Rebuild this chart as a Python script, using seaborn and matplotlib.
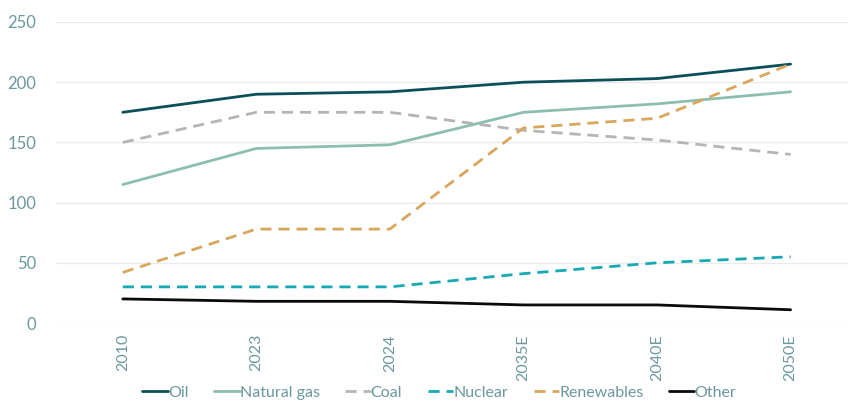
import pandas as pd
import matplotlib.pyplot as plt
import seaborn as sns

# Data
years = ['2010', '2023', '2024', '2035E', '2040E', '2050E']
oil = [175, 190, 192, 200, 203, 215]
natural_gas = [115, 145, 148, 175, 182, 192]
coal = [150, 175, 175, 160, 152, 140]
nuclear = [30, 30, 30, 41, 50, 55]
renewables = [42, 78, 78, 162, 170, 215]
other = [20, 18, 18, 15, 15, 11]

series = {'Oil': oil, 'Natural gas': natural_gas, 'Coal': coal,
          'Nuclear': nuclear, 'Renewables': renewables, 'Other': other}
colors = {'Oil': '#0b4f5a', 'Natural gas': '#8cc0ab', 'Coal': '#b5b5b5',
          'Nuclear': '#17a9b4', 'Renewables': '#d9a75c', 'Other': '#0a0a0a'}
dashes = {'Oil': '', 'Natural gas': '', 'Coal': (4, 2.5),
          'Nuclear': (4, 2.5), 'Renewables': (4, 2.5), 'Other': ''}

df = pd.DataFrame([
    {'year': y, 'source': name, 'value': v}
    for name, vals in series.items() for y, v in zip(years, vals)
])

sns.set_theme(style='white')
plt.rcParams['font.family'] = ['Lato', 'DejaVu Sans']

fig = plt.figure(figsize=(8.48, 4.05), dpi=100)
ax = fig.add_axes([56 / 848, 82 / 405, 1 - 56 / 848, 301 / 405])

sns.lineplot(data=df, x='year', y='value', hue='source', style='source',
             palette=colors, dashes=dashes, linewidth=2, ax=ax, sort=False)

ax.set_ylim(0, 250)
ax.set_xlim(-0.5, 5.43)
ax.set_yticks(range(0, 251, 50))
ax.grid(axis='y', color='#ebebeb', linewidth=1)
ax.set_axisbelow(True)
for s in ax.spines.values():
    s.set_visible(False)
ax.set_xlabel('')
ax.set_ylabel('')
tick_color = '#6b98a0'
ax.tick_params(axis='y', length=0, labelsize=12, labelcolor=tick_color, pad=14)
ax.tick_params(axis='x', length=0, labelsize=11.5, labelcolor=tick_color, pad=8)
plt.setp(ax.get_xticklabels(), rotation=90)

handles, labels = ax.get_legend_handles_labels()
ax.legend(handles, labels, loc='center', bbox_to_anchor=(0.518, 0.03),
          bbox_transform=fig.transFigure, ncol=6, frameon=False,
          handlelength=1.6, handletextpad=0.0, columnspacing=1.6,
          fontsize=11.5, labelcolor=tick_color)

fig.savefig('out.png', dpi=100)
